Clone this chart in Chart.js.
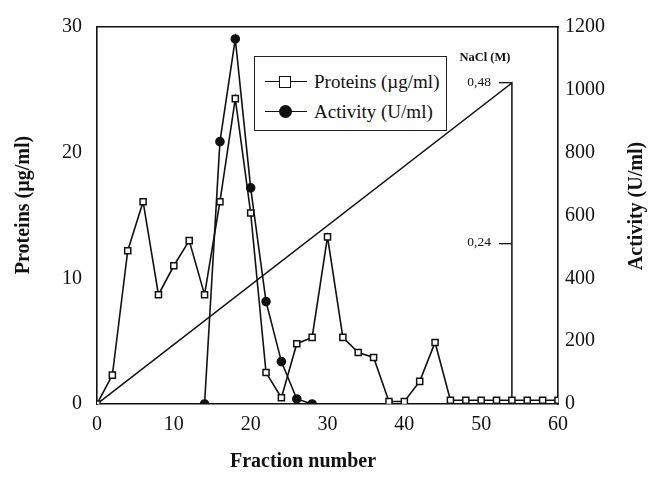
<!DOCTYPE html>
<html>
<head>
<meta charset="utf-8">
<script src="https://cdn.jsdelivr.net/npm/chart.js@4.4.1/dist/chart.umd.min.js"></script>
<style>
  html, body { margin: 0; padding: 0; background: #fff; }
  #wrap { position: relative; width: 648px; height: 483px; }
  #legend {
    position: absolute; left: 254px; top: 56px; width: 191px; height: 73px;
    border: 1.5px solid #222; background: #fff;
    font-family: 'Liberation Serif', 'Times New Roman', serif; font-size: 19px; color: #111;
  }
  .item { position: absolute; left: 10px; height: 22px; line-height: 22px; white-space: nowrap; }
  .sym { position: absolute; left: 0; top: 0; width: 42px; height: 22px; }
  .sym .ln { position: absolute; left: 0; right: 0; top: 10px; border-top: 1.5px solid #111; }
  .sym .sq { position: absolute; left: 14px; top: 5px; width: 10px; height: 10px; border: 1.5px solid #111; background: #fff; }
  .sym .dot { position: absolute; left: 14px; top: 4px; width: 13px; height: 13px; border-radius: 50%; background: #111; }
  .txt { position: absolute; left: 49px; top: 0; }
</style>
</head>
<body>
<div id="wrap">
  <canvas id="myChart" width="648" height="483"></canvas>
  <div id="legend"></div>
</div>
<script>
'use strict';

var serif = "'Liberation Serif', 'Times New Roman', serif";

// fraction number vs proteins (left axis)
var proteinFractions = [0, 2, 4, 6, 8, 10, 12, 14, 16, 18, 20, 22, 24, 26, 28, 30,
  32, 34, 36, 38, 40, 42, 44, 46, 48, 50, 52, 54, 56, 58, 60];
var proteins = [0, 2.3, 12.2, 16.1, 8.7, 11.0, 13.0, 8.7, 16.1, 24.3, 15.2, 2.5, 0.5, 4.8, 5.3, 13.3,
  5.3, 4.1, 3.7, 0.2, 0.2, 1.8, 4.9, 0.3, 0.3, 0.3, 0.3, 0.3, 0.3, 0.3, 0.3];

// activity (right axis)
var activityFractions = [14, 16, 18, 20, 22, 24, 26, 28];
var activity = [0, 835, 1162, 688, 326, 135, 16, 0];

// NaCl gradient
var naclFractions = [0, 54, 54];
var nacl = [0, 0.48, 0];
var naclTicks = [0.24, 0.48];

var xTicks = [0, 10, 20, 30, 40, 50, 60];

function toPoints(xs, ys) {
  return xs.map(function (x, i) { return { x: x, y: ys[i] }; });
}

function drawText(ctx, text, x, y, font, rot) {
  ctx.save();
  ctx.fillStyle = '#111';
  ctx.font = font;
  ctx.textAlign = 'center';
  ctx.textBaseline = 'middle';
  ctx.translate(x, y);
  if (rot) ctx.rotate(rot);
  ctx.fillText(text, 0, 0);
  ctx.restore();
}

// axis titles and the NaCl labels, placed like in the original figure
var extraText = {
  id: 'extraText',
  afterDraw: function (chart) {
    var ctx = chart.ctx;
    var ns = chart.scales.nacl;
    var xs = chart.scales.x;
    var titleFont = 'bold 20px ' + serif;
    drawText(ctx, 'Proteins (\u00b5g/ml)', 24, 205, titleFont, -Math.PI / 2);
    drawText(ctx, 'Activity (U/ml)', 637, 206, titleFont, -Math.PI / 2);
    drawText(ctx, 'Fraction number', 303, 462, titleFont, 0);

    var xAxis = xs.getPixelForValue(54);
    drawText(ctx, 'NaCl (M)', xAxis - 27, ns.getPixelForValue(0.48) - 25, 'bold 12.5px ' + serif, 0);
    ctx.save();
    ctx.fillStyle = '#111';
    ctx.font = '13.5px ' + serif;
    ctx.textAlign = 'right';
    ctx.textBaseline = 'middle';
    ns.ticks.forEach(function (t) {
      ctx.fillText(t.value.toFixed(2).replace('.', ','), xAxis - 21, ns.getPixelForValue(t.value) - 1);
    });
    ctx.restore();
  }
};

var ctx = document.getElementById('myChart').getContext('2d');
var chart = new Chart(ctx, {
  type: 'line',
  data: {
    datasets: [
      {
        label: 'Proteins (\u00b5g/ml)',
        data: toPoints(proteinFractions, proteins),
        yAxisID: 'y',
        borderColor: '#111',
        borderWidth: 1.6,
        pointStyle: 'rect',
        pointRadius: 4.3,
        pointBackgroundColor: '#fff',
        pointBorderColor: '#111',
        pointBorderWidth: 1.5,
        tension: 0,
        order: 1
      },
      {
        label: 'Activity (U/ml)',
        data: toPoints(activityFractions, activity),
        yAxisID: 'yRight',
        borderColor: '#111',
        borderWidth: 1.6,
        pointStyle: 'circle',
        pointRadius: 4,
        pointBackgroundColor: '#111',
        pointBorderColor: '#111',
        tension: 0,
        order: 0
      },
      {
        label: 'NaCl (M)',
        data: toPoints(naclFractions, nacl),
        yAxisID: 'nacl',
        borderColor: '#111',
        borderWidth: 1.5,
        pointRadius: 0,
        tension: 0,
        order: 2
      }
    ]
  },
  options: {
    responsive: false,
    animation: false,
    layout: { padding: 0 },
    plugins: {
      legend: { display: false },
      tooltip: { enabled: false }
    },
    scales: {
      x: {
        type: 'linear',
        position: 'bottom',
        min: 0,
        max: 60,
        afterBuildTicks: function (scale) {
          scale.ticks = xTicks.map(function (v) { return { value: v }; });
        },
        afterFit: function (scale) { scale.height = 79; },
        grid: { drawOnChartArea: false, drawTicks: false },
        border: { display: true, color: '#111', width: 1.6 },
        ticks: { color: '#111', font: { family: serif, size: 20 }, padding: 9, maxRotation: 0 }
      },
      xTop: {
        type: 'linear',
        position: 'top',
        min: 0,
        max: 60,
        afterFit: function (scale) { scale.height = 27; },
        grid: { drawOnChartArea: false, drawTicks: false },
        border: { display: true, color: '#111', width: 1.6 },
        ticks: { display: false }
      },
      y: {
        position: 'left',
        min: 0,
        max: 30,
        ticks: { stepSize: 10, color: '#111', font: { family: serif, size: 20 }, padding: 15 },
        afterFit: function (scale) { scale.width = 97; },
        grid: { drawOnChartArea: false, drawTicks: false },
        border: { display: true, color: '#111', width: 1.6 }
      },
      yRight: {
        position: 'right',
        min: 0,
        max: 1200,
        ticks: {
          stepSize: 200,
          color: '#111',
          font: { family: serif, size: 20 },
          padding: 7,
          callback: function (v) { return String(v); }
        },
        afterFit: function (scale) { scale.width = 90; },
        grid: { drawOnChartArea: false, drawTicks: false },
        border: { display: true, color: '#111', width: 1.6 }
      },
      nacl: {
        position: { x: 54 },
        min: 0,
        max: 0.5637,
        afterBuildTicks: function (scale) {
          scale.ticks = naclTicks.map(function (v) { return { value: v }; });
        },
        grid: { drawOnChartArea: false, drawTicks: true, tickLength: 13, color: '#111', lineWidth: 1.3 },
        border: { display: false },
        ticks: { display: false }
      }
    }
  },
  plugins: [extraText]
});

// html legend built from the chart's own datasets
var legendEl = document.getElementById('legend');
chart.data.datasets.slice(0, 2).forEach(function (ds, i) {
  var item = document.createElement('div');
  item.className = 'item';
  item.style.top = (i === 0 ? 14 : 44) + 'px';
  var sym = '<div class="sym"><div class="ln"></div><div class="' + (ds.pointStyle === 'rect' ? 'sq' : 'dot') + '"></div></div>';
  item.innerHTML = sym + '<div class="txt">' + ds.label + '</div>';
  legendEl.appendChild(item);
});
</script>
</body>
</html>
